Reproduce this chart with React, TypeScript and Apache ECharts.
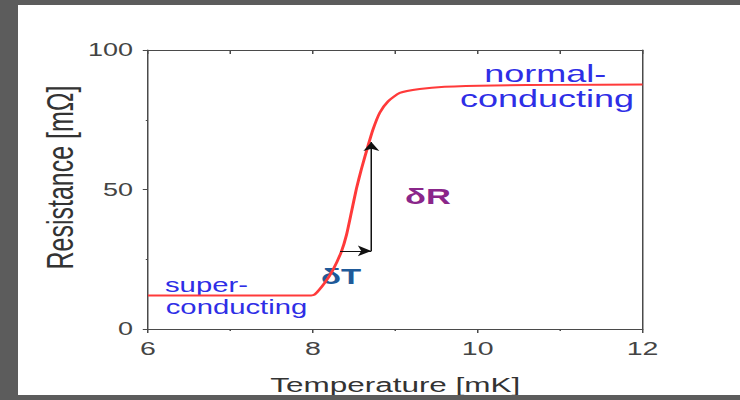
import React, { useEffect, useRef } from "react";
import * as echarts from "echarts";

// Source picture is horizontally stretched; we draw in an unstretched frame and scale it.
const STRETCH = 1.5;
const WIDTH = 740;
const HEIGHT = 400;

// Measured curve (Temperature [mK] -> Resistance [mΩ])
const temperature = [6, 7, 7.98, 8.024, 8.145, 8.246, 8.347, 8.408, 8.469, 8.529, 8.59, 8.67, 8.731, 8.812, 8.913, 9.055, 9.297, 9.6, 10.2, 11, 12];
const resistance = [12, 12, 12, 12.4, 16.6, 21.3, 27.8, 33.7, 42.0, 50.3, 57.4, 65.7, 71.6, 77.5, 81.6, 84.6, 86.0, 86.8, 87.3, 87.5, 87.6];

// Arrows: δT (horizontal) then δR (vertical)
const arrowDT = [[8.33, 28], [8.71, 28]];
const arrowDR = [[8.71, 28], [8.71, 67]];

const xRange = [6, 12];
const yRange = [0, 100];

const FONT = "'Liberation Sans', Arial, Helvetica, sans-serif";

export default function App() {
  const ref = useRef<HTMLDivElement>(null);

  useEffect(() => {
    if (!ref.current) return;
    const chart = echarts.init(ref.current, null, { renderer: "svg" });
    const axisColor = "#4a4a4a";
    const data = temperature.map((t, i) => [t, resistance[i]]);

    chart.setOption({
      animation: false,
      backgroundColor: "transparent",
      grid: { left: 98.67, right: 64.67, top: 50, bottom: 68, containLabel: false },
      xAxis: [
        {
          type: "value",
          position: "bottom",
          min: xRange[0],
          max: xRange[1],
          interval: 2,
          axisLine: { show: true, onZero: false, lineStyle: { color: axisColor, width: 1 } },
          axisTick: { show: true, inside: false, length: 4, lineStyle: { color: axisColor } },
          minorTick: { show: true, splitNumber: 2, length: 2, lineStyle: { color: axisColor } },
          splitLine: { show: false },
          minorSplitLine: { show: false },
          axisLabel: { color: "#444", fontSize: 19, fontFamily: FONT, margin: 10 },
          name: "Temperature [mK]",
          nameLocation: "middle",
          nameGap: 45,
          nameTextStyle: { color: "#333", fontSize: 21, fontFamily: FONT },
        },
        {
          type: "value",
          position: "top",
          min: xRange[0],
          max: xRange[1],
          interval: 1,
          axisLine: { show: true, onZero: false, lineStyle: { color: axisColor, width: 1 } },
          axisTick: { show: true, inside: true, length: 4, lineStyle: { color: axisColor } },
          axisLabel: { show: false },
          splitLine: { show: false },
        },
      ],
      yAxis: [
        {
          type: "value",
          position: "left",
          min: yRange[0],
          max: yRange[1],
          interval: 50,
          axisLine: { show: true, onZero: false, lineStyle: { color: axisColor, width: 1 } },
          axisTick: { show: true, inside: false, length: 3.5, lineStyle: { color: axisColor } },
          minorTick: { show: true, splitNumber: 2, length: 1.5, lineStyle: { color: axisColor } },
          splitLine: { show: false },
          minorSplitLine: { show: false },
          axisLabel: { color: "#444", fontSize: 18, fontFamily: FONT, margin: 10 },
        },
        {
          type: "value",
          position: "right",
          min: yRange[0],
          max: yRange[1],
          axisLine: { show: true, onZero: false, lineStyle: { color: axisColor, width: 1 } },
          axisTick: { show: false },
          axisLabel: { show: false },
          splitLine: { show: false },
        },
      ],
      series: [
        {
          type: "line",
          xAxisIndex: 0,
          yAxisIndex: 0,
          data,
          showSymbol: false,
          smooth: 0.2,
          lineStyle: { color: "#ff3a3a", width: 2 },
          silent: true,
          markLine: {
            silent: true,
            symbol: ["none", "arrow"],
            symbolSize: [8, 9],
            label: { show: false },
            lineStyle: { color: "#111", width: 1, type: "solid" },
            emphasis: { disabled: true },
            data: [
              [{ coord: arrowDT[0] }, { coord: arrowDT[1] }],
              [{ coord: arrowDR[0] }, { coord: arrowDR[1] }],
            ],
          },
        },
      ],
      graphic: [
        {
          type: "text",
          x: 40,
          y: 177.5,
          rotation: Math.PI / 2,
          style: {
            text: "Resistance [mΩ]",
            fill: "#333",
            font: `25px ${FONT}`,
            align: "center",
            verticalAlign: "middle",
          },
        },
        {
          type: "text",
          x: 363.5,
          y: 73.3,
          style: { text: "normal-", fill: "#2e2ee6", font: `24px ${FONT}`, align: "center", verticalAlign: "middle" },
        },
        {
          type: "text",
          x: 364.7,
          y: 98.3,
          style: { text: "conducting", fill: "#2e2ee6", font: `24px ${FONT}`, align: "center", verticalAlign: "middle" },
        },
        {
          type: "text",
          x: 110,
          y: 285.5,
          style: { text: "super-", fill: "#2e2ee6", font: `19.5px ${FONT}`, align: "left", verticalAlign: "middle" },
        },
        {
          type: "text",
          x: 110.5,
          y: 307.5,
          style: { text: "conducting", fill: "#2e2ee6", font: `19.5px ${FONT}`, align: "left", verticalAlign: "middle" },
        },
        {
          type: "text",
          x: 214,
          y: 276.6,
          style: { text: "δT", fill: "#1f5a99", font: `bold 22px ${FONT}`, align: "left", verticalAlign: "middle" },
        },
        {
          type: "text",
          x: 270,
          y: 196,
          style: { text: "δR", fill: "#8a268a", font: `bold 23px ${FONT}`, align: "left", verticalAlign: "middle" },
        },
      ],
    });

    return () => chart.dispose();
  }, []);

  return (
    <div
      style={{
        position: "fixed",
        left: 0,
        top: 0,
        width: WIDTH,
        height: HEIGHT,
        background: "#5c5c5c",
        overflow: "hidden",
      }}
    >
      <div
        style={{
          position: "absolute",
          left: 18,
          top: 5,
          width: WIDTH - 18,
          height: HEIGHT - 10,
          background: "#ffffff",
          overflow: "hidden",
        }}
      >
        <div
          ref={ref}
          style={{
            position: "absolute",
            left: -18,
            top: -5,
            width: WIDTH / STRETCH,
            height: HEIGHT,
            transform: `scaleX(${STRETCH})`,
            transformOrigin: "0 0",
          }}
        />
      </div>
    </div>
  );
}
